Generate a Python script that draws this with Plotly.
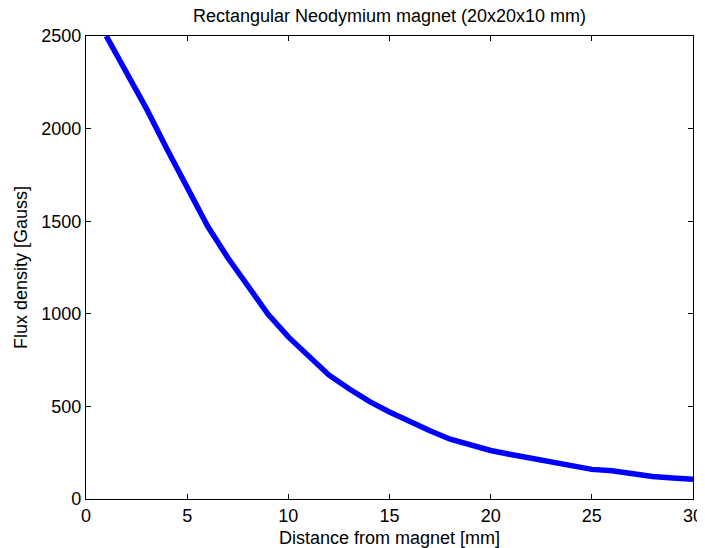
import plotly.graph_objects as go

distance_mm = list(range(1, 31))
flux_gauss = [2500, 2306, 2105, 1890, 1690, 1475, 1304, 1147, 997, 875,
              770, 670, 595, 527, 470, 415, 368, 323, 292, 262,
              240, 220, 197, 182, 160, 153, 136, 121, 113, 107]

x_ticks = [0, 5, 10, 15, 20, 25, 30]
y_ticks = [0, 500, 1000, 1500, 2000, 2500]

font = dict(family="Liberation Sans, Arial, Helvetica, sans-serif", size=18, color="black")

fig = go.Figure(go.Scatter(x=distance_mm, y=flux_gauss, mode="lines",
                           line=dict(color="#0000FF", width=5.5)))

axis_common = dict(showgrid=False, zeroline=False, showline=True, linecolor="black",
                   linewidth=1.2, mirror="ticks", ticks="inside", ticklen=5,
                   tickcolor="black", tickfont=font, automargin=False)

# page body keeps its default 8px margin (top-left offset); the rest is cropped by the window
fig.update_layout(
    width=697, height=540,
    margin=dict(l=78, r=12, t=28, b=49, autoexpand=False),
    paper_bgcolor="white", plot_bgcolor="white",
    showlegend=False,
    font=font,
    title=dict(text="Rectangular Neodymium magnet (20x20x10 mm)", x=0.5, xref="paper",
               xanchor="center", y=0.998, yref="container", yanchor="top",
               font=font),
    xaxis=dict(range=[0, 30], tickvals=x_ticks,
               title=dict(text="Distance from magnet [mm]", standoff=9, font=font),
               **axis_common),
    yaxis=dict(range=[0, 2500], tickvals=y_ticks,
               title=dict(text="Flux density [Gauss]", standoff=8, font=font),
               **axis_common),
)

fig.write_html("out.html", config={"displayModeBar": False})
